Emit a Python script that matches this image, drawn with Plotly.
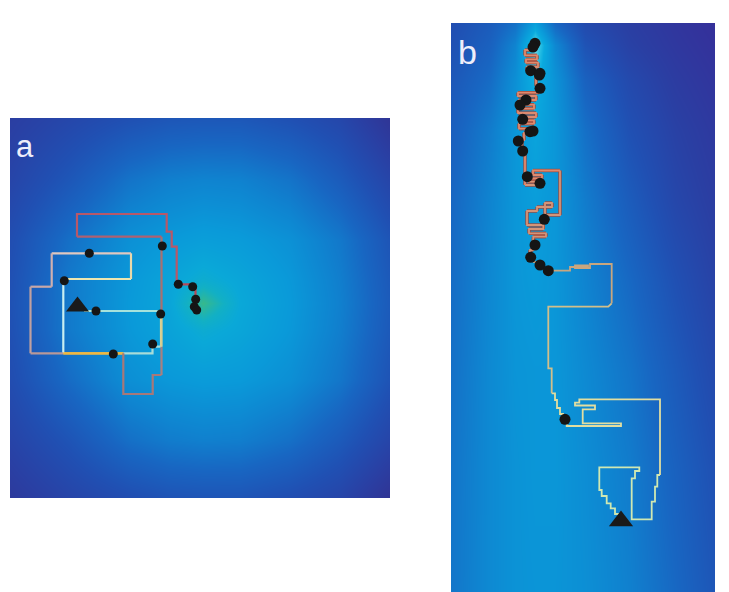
import plotly.graph_objects as go

# ---------------- Panel a : field grid (arbitrary map units) ----------------
a_grid_x = [10, 70, 130, 170, 203, 240, 290, 340, 390]
a_grid_y = [118, 180, 240, 280, 303, 330, 380, 440, 498]
a_field = [
    [0.14, 0.22, 0.30, 0.34, 0.35, 0.35, 0.30, 0.22, 0.05],
    [0.20, 0.35, 0.52, 0.58, 0.60, 0.59, 0.52, 0.38, 0.20],
    [0.28, 0.50, 0.67, 0.72, 0.75, 0.73, 0.67, 0.54, 0.33],
    [0.30, 0.55, 0.71, 0.79, 0.86, 0.80, 0.71, 0.57, 0.36],
    [0.31, 0.55, 0.72, 0.80, 1.00, 0.82, 0.72, 0.58, 0.37],
    [0.30, 0.55, 0.71, 0.78, 0.85, 0.80, 0.71, 0.57, 0.36],
    [0.27, 0.48, 0.66, 0.71, 0.73, 0.72, 0.66, 0.53, 0.32],
    [0.19, 0.33, 0.50, 0.56, 0.58, 0.57, 0.50, 0.37, 0.20],
    [0.10, 0.20, 0.28, 0.32, 0.33, 0.33, 0.28, 0.20, 0.04],
]

# Panel a : trajectory
a_path_x = [84, 161, 161, 152.5, 152.5, 123.3, 63.3, 63.3, 131, 131, 51.7, 51.7,
            30.5, 30.5, 63.3, 123.3, 123.3, 152.7, 152.7, 161.5, 161.5, 161.5,
            161.5, 77, 77, 166.7, 166.7, 171.7, 171.7, 176.7, 176.7, 192.7,
            192.7, 195.5, 195.5]
a_path_y = [311, 311, 346.7, 346.7, 353.3, 353.3, 353.3, 279, 279, 253.3, 253.3,
            286.7, 286.7, 353.3, 353.3, 353.3, 394, 394, 375, 375, 346.7, 311,
            236.7, 236.7, 214, 214, 231.7, 231.7, 246.7, 246.7, 284.3, 284.3,
            288, 288, 310]
a_seg_color = ['#a6e2dc', '#e2dc9c', '#a8dcd8', '#a8dcd8', '#a8dcd8', '#f0c050',
               '#c8eef0', '#eee6b0', '#e8d8a8', '#e0c8c0', '#d0b0b0', '#c8a8a8',
               '#c0a0a0', '#b89898', '#f0b840', '#a87878', '#a87878', '#a87878',
               '#a87878', '#a88080', '#d8cc90', '#a87070', '#b06070', '#b85868',
               '#b85868', '#b85868', '#b85868', '#b85868', '#b85868', '#b85868',
               '#b84858', '#b84858', '#b84858', '#b84858']
a_dots_x = [89.3, 64.3, 96, 160.7, 152.7, 113.3, 162.3, 178.3, 192.7, 195.7, 194.3, 196.7]
a_dots_y = [253.3, 280.7, 311, 314, 344, 354, 246, 284.3, 286.7, 299.3, 306.7, 310]
a_start = (77.5, 306.5)

# ---------------- Panel b : field grid ----------------
b_grid_x = [451, 490, 515, 535, 555, 585, 630, 675, 715]
b_grid_y = [23, 45, 80, 130, 200, 280, 370, 470, 592]
b_field = [
    [0.28, 0.38, 0.50, 0.75, 0.45, 0.25, 0.14, 0.06, 0.00],
    [0.30, 0.42, 0.60, 0.98, 0.62, 0.32, 0.17, 0.08, 0.02],
    [0.35, 0.48, 0.66, 0.85, 0.68, 0.42, 0.24, 0.12, 0.05],
    [0.40, 0.56, 0.70, 0.78, 0.70, 0.50, 0.30, 0.17, 0.09],
    [0.45, 0.60, 0.70, 0.74, 0.70, 0.56, 0.38, 0.22, 0.13],
    [0.48, 0.62, 0.70, 0.72, 0.70, 0.60, 0.46, 0.30, 0.18],
    [0.50, 0.63, 0.69, 0.70, 0.70, 0.63, 0.52, 0.37, 0.24],
    [0.52, 0.63, 0.68, 0.70, 0.70, 0.65, 0.56, 0.42, 0.30],
    [0.53, 0.63, 0.68, 0.69, 0.69, 0.66, 0.58, 0.46, 0.34],
]

b_path = [
    (621, 514), (615, 514), (615, 508.3), (610.7, 508.3), (610.7, 503.3), (606.7, 503.3),
    (606.7, 496), (601.7, 496), (601.7, 490), (599.3, 490), (599.3, 467.3), (639.3, 467.3),
    (639.3, 471), (635, 471), (635, 478.3), (631.7, 478.3), (631.7, 519.3), (651.7, 519.3),
    (651.7, 501.7), (655, 501.7), (655, 486.7), (657.3, 486.7), (657.3, 475), (660, 475),
    (660, 399.3), (579.3, 399.3), (579.3, 402.7), (575, 402.7), (575, 405.5), (595, 405.5),
    (595, 409.3), (582.7, 409.3), (582.7, 423.3), (621, 423.3), (621, 426), (566.7, 426),
    (566.7, 419), (563, 419), (563, 414), (560, 414), (560, 408), (557, 408), (557, 400),
    (555, 400), (555, 393.3), (551.7, 393.3), (551.7, 368.3), (548.3, 368.3), (548.3, 306.7),
    (608.3, 306.7), (611.7, 303.3), (611.7, 264), (590, 264), (590, 268), (575, 268),
    (575, 265.5), (588, 265.5), (588, 267), (570, 267), (570, 270.7), (549.3, 270.7),
    (544, 270.7), (544, 266), (540, 266), (540, 262), (534, 262), (534, 257), (530, 257),
    (530, 250), (533.3, 250), (533.3, 245), (533.3, 236.7), (546, 236.7), (546, 233.3),
    (529, 233.3), (529, 229), (543.3, 229), (543.3, 225), (527, 225),
    (527, 211), (537, 211), (537, 207), (552, 207), (552, 203), (545, 203),
    (545, 215), (560, 215), (560, 170.5), (533, 170.5), (533, 175), (542, 175),
    (542, 178.5), (528, 178.5), (528, 181.7), (538, 181.7), (538, 185), (525, 185),
    (525, 151), (522, 151), (522, 140), (524, 140), (524, 133), (536, 133),
    (536, 128.7), (519, 128.7), (519, 123.7), (534, 123.7), (534, 120.3), (520, 120.3),
    (520, 117), (536, 117), (536, 113), (518, 113), (518, 108.7), (534, 108.7),
    (534, 104.7), (519, 104.7), (519, 100), (536, 100), (536, 96), (518, 96),
    (518, 92.7), (539, 92.7), (539, 86), (536, 86), (536, 76.7), (540, 76.7),
    (540, 71.3), (527, 71.3), (527, 67), (538, 67), (538, 62.7), (526, 62.7),
    (526, 59.3), (537, 59.3), (537, 55.3), (525, 55.3), (525, 50), (533, 50),
    (533, 45), (536, 45),
]
b_path_x = [p[0] for p in b_path]
b_path_y = [p[1] for p in b_path]
b_color_bands = [(440, '#cfe8b2'), (390, '#e2dea0'), (300, '#d2bf8a'),
                 (255, '#c9a67e'), (180, '#d49478'), (0, '#de8a6e')]
b_dots_x = [535, 533, 530.7, 539.3, 540, 540, 526, 520, 522.7, 530, 533, 518.3, 522.7,
            527.3, 540, 544.3, 535, 530.7, 540, 548.3, 565]
b_dots_y = [43.3, 47, 70.7, 75, 73.3, 88.3, 100, 105, 119.3, 131.7, 131, 141, 151,
            176.7, 183.3, 219.3, 245, 257.3, 265, 270.7, 419.3]
b_start = (621, 521)

W, H = 729, 592
scale_a = [[0.00, '#33308f'], [0.15, '#2a3fa3'], [0.30, '#2050b3'], [0.45, '#1866c2'],
           [0.60, '#0f84d0'], [0.72, '#0a9ad9'], [0.82, '#0aa8d8'], [0.90, '#12b0c4'],
           [1.00, '#36b98c']]
scale_b = [[0.00, '#35309a'], [0.15, '#2a3fa3'], [0.30, '#2050b3'], [0.45, '#1866c2'],
           [0.60, '#0f84d0'], [0.72, '#0a9ad9'], [0.82, '#0aaade'], [0.90, '#30c4e4'],
           [1.00, '#a0e8f0']]

fig = go.Figure()
fig.add_trace(go.Heatmap(x=a_grid_x, y=a_grid_y, z=a_field, colorscale=scale_a,
                         zmin=0, zmax=1, zsmooth='best', showscale=False,
                         hoverinfo='skip', xaxis='x', yaxis='y'))
fig.add_trace(go.Heatmap(x=b_grid_x, y=b_grid_y, z=b_field, colorscale=scale_b,
                         zmin=0, zmax=1, zsmooth='best', showscale=False,
                         hoverinfo='skip', xaxis='x2', yaxis='y2'))


def add_path(xs, ys, colors, xa, ya, width=2.2):
    start = 0
    n = len(colors)
    for i in range(1, n + 1):
        if i == n or colors[i] != colors[start]:
            fig.add_trace(go.Scatter(x=xs[start:i + 1], y=ys[start:i + 1], mode='lines',
                                     line=dict(color=colors[start], width=width),
                                     hoverinfo='skip', xaxis=xa, yaxis=ya))
            start = i


add_path(a_path_x, a_path_y, a_seg_color, 'x', 'y')

b_seg_color = []
for i in range(len(b_path_x) - 1):
    ym = (b_path_y[i] + b_path_y[i + 1]) / 2
    for lim, col in b_color_bands:
        if ym >= lim:
            b_seg_color.append(col)
            break
# dark outline beneath the reddish (upper) part of the walk
b_outline = ['#a04a3c' if c in ('#d49478', '#de8a6e') else None for c in b_seg_color]
for i, c in enumerate(b_outline):
    if c:
        fig.add_trace(go.Scatter(x=b_path_x[i:i + 2], y=b_path_y[i:i + 2], mode='lines',
                                 line=dict(color=c, width=3.4), hoverinfo='skip',
                                 xaxis='x2', yaxis='y2'))
add_path(b_path_x, b_path_y, b_seg_color, 'x2', 'y2', width=1.8)

fig.add_trace(go.Scatter(x=a_dots_x, y=a_dots_y, mode='markers',
                         marker=dict(color='#151515', size=9), xaxis='x', yaxis='y'))
fig.add_trace(go.Scatter(x=b_dots_x, y=b_dots_y, mode='markers',
                         marker=dict(color='#151515', size=11), xaxis='x2', yaxis='y2'))
fig.add_trace(go.Scatter(x=[a_start[0]], y=[a_start[1]], mode='markers',
                         marker=dict(symbol='triangle-up', color='#1a1a1a', size=20),
                         xaxis='x', yaxis='y'))
fig.add_trace(go.Scatter(x=[b_start[0]], y=[b_start[1]], mode='markers',
                         marker=dict(symbol='triangle-up', color='#1a1a1a', size=21),
                         xaxis='x2', yaxis='y2'))

ax = dict(visible=False, showgrid=False, zeroline=False, fixedrange=True)
fig.update_layout(
    width=W, height=H, margin=dict(l=0, r=0, t=0, b=0),
    paper_bgcolor='white', plot_bgcolor='white', showlegend=False,
    xaxis=dict(ax, domain=[10 / W, 390 / W], range=[10, 390]),
    yaxis=dict(ax, domain=[1 - 498 / H, 1 - 118 / H], range=[498, 118]),
    xaxis2=dict(ax, domain=[451 / W, 715 / W], range=[451, 715]),
    yaxis2=dict(ax, domain=[0, 1 - 23 / H], range=[592, 23]),
    annotations=[
        dict(text='a', x=14 / W, y=1 - 146 / H, xref='paper', yref='paper',
             xanchor='left', yanchor='middle', showarrow=False,
             font=dict(family='Liberation Sans, Arial', size=31, color='#eeeefa')),
        dict(text='b', x=456 / W, y=1 - 52 / H, xref='paper', yref='paper',
             xanchor='left', yanchor='middle', showarrow=False,
             font=dict(family='Liberation Sans, Arial', size=34, color='#eeeefa')),
    ],
)
fig.write_html('out.html')
